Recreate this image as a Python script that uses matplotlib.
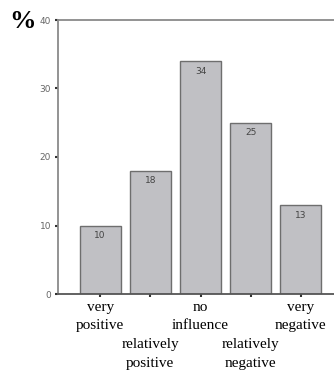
import numpy as np
import matplotlib
matplotlib.use("Agg")
import matplotlib.pyplot as plt

# data
categories = ["very\npositive", "relatively\npositive", "no\ninfluence",
              "relatively\nnegative", "very\nnegative"]
percent = [10, 18, 34, 25, 13]
yticks = [0, 10, 20, 30, 40]

fig = plt.figure(figsize=(3.34, 3.74), dpi=100)
ax = fig.add_axes([58 / 334, 1 - 294 / 374, 1 - 58 / 334, (294 - 20) / 374])

x = np.arange(len(percent))
bars = ax.bar(x, percent, width=0.82, color="#c0c0c4", edgecolor="#6e6e6e",
              linewidth=1.0, zorder=2)

for b, v in zip(bars, percent):
    ax.annotate(str(v), (b.get_x() + b.get_width() / 2, v), xytext=(0, -4),
                textcoords="offset points", ha="center", va="top",
                fontsize=6.5, color="#444444", family="DejaVu Sans")

ax.set_xlim(-0.84, 4.66)
ax.set_ylim(0, 40)
ax.set_yticks(yticks)
ax.set_yticklabels([str(t) for t in yticks], fontsize=6.5, color="#666666",
                   family="DejaVu Sans")

# category labels staggered on two levels below the axis
ax.set_xticks(x)
ax.set_xticklabels([""] * len(x))
for i, c in enumerate(categories):
    off = -5 if i % 2 == 0 else -32
    ax.annotate(c, (i, 0), xytext=(0, off), textcoords="offset points",
                xycoords=("data", "axes fraction"), ha="center", va="top",
                fontsize=11, family="Liberation Serif", linespacing=1.55,
                annotation_clip=False)

ax.tick_params(axis="both", direction="out", length=2, width=1.5,
               color="#333333", pad=3)

for side in ["left", "top", "bottom"]:
    ax.spines[side].set_color("#8a8a8a")
    ax.spines[side].set_linewidth(1.3)
ax.spines["bottom"].set_color("#555555")
ax.spines["right"].set_visible(False)

fig.text(22 / 334, 1 - 21 / 374, "%", fontsize=19, fontweight="bold",
         family="Liberation Serif", ha="center", va="center")

fig.savefig("out.png", dpi=100)
